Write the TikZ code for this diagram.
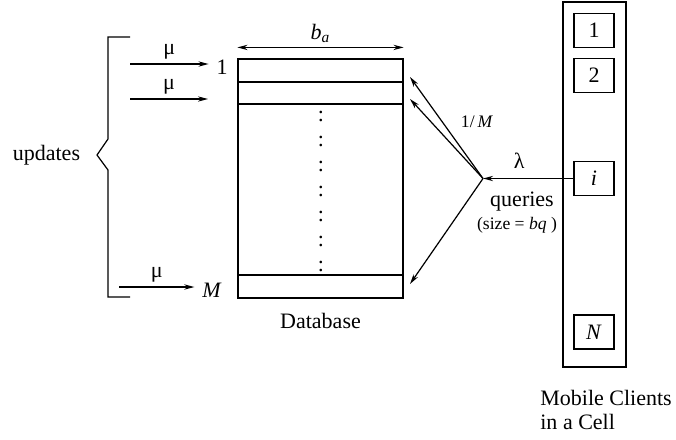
\documentclass[tikz,border=0pt]{standalone}
\usepackage{fontspec}
\setmainfont{Liberation Serif}
\usetikzlibrary{arrows.meta,positioning,calc}

\begin{document}
\begin{tikzpicture}[x=0.4545pt,y=-0.4545pt,line width=0.55pt,
    flow/.style={-{Stealth[length=4.6pt,width=2.4pt]}},
    client/.style={draw,minimum width=18.2pt,minimum height=15.5pt,inner sep=0pt}]
    \useasboundingbox (0,0) rectangle (676,439);

    % Database with its rows
    \node[draw,minimum width=75pt,minimum height=108.6pt,inner sep=0pt] (db) at (320.5,178.5) {};
    \foreach \y in {82,104,275} {
        \draw (238,\y) -- (403,\y);
    }
    \foreach \k in {0,...,6} {
        \node[inner sep=0pt] (dot\k) at (321,116.5+25*\k) {:};
    }
    \node[below=3pt of db] (dbname) {Database};

    % Row width
    \coordinate (wl) at ($(db.north west)+(0,-11)$);
    \coordinate (wr) at ($(db.north east)+(0,-11)$);
    \draw[{Stealth[length=4.6pt,width=2.4pt]}-{Stealth[length=4.6pt,width=2.4pt]}] (wl) -- node[above=-1.5pt] (ba) {\textit{b}\textsubscript{\textit{a}}} (wr);

    % Updates
    \draw (130,37) -- (108,37) -- (108,139) -- (97,155) -- (108,170) -- (108,297) -- (130,297);
    \node[anchor=east] (upd) at (88,155) {updates};
    \node (one) at (222,67) {1};
    \node (last) at (212,290) {\textit{M}};
    \coordinate (u1) at (130,64);
    \coordinate (u2) at (130,99);
    \coordinate (u2e) at (208,99);
    \coordinate (u3) at (119,287);
    \draw[flow] (u1) -- node[above=-1.5pt] (mu1) {μ} (one.west |- u1);
    \draw[flow] (u2) -- node[above=-1.5pt] (mu2) {μ} (u2e);
    \draw[flow] (u3) -- node[above=-1.5pt] (mu3) {μ} (last.west |- u3);

    % Mobile clients
    \node[draw,minimum width=28.6pt,minimum height=165.9pt,inner sep=0pt] (cell) at (594.5,184.5) {};
    \node[client] (c1) at (594,30.5) {1};
    \node[client] (c2) at (594,75.5) {2};
    \node[client] (ci) at (594,178.5) {\textit{i}};
    \node[client] (cn) at (594,332) {\textit{N}};
    \node[anchor=north west,align=left] (cellname) at ($(cell.south west)+(-30,15)$) {Mobile Clients\\[-1.1pt]in a Cell};

    % Queries
    \coordinate (hub) at (483,178.5);
    \coordinate (q1) at (410,77);
    \coordinate (q2) at (410,99);
    \coordinate (q3) at (410,284);
    \draw[flow] (ci.west) -- node[above=1pt,pos=0.6] (lam) {λ} (hub);
    \draw[flow] (hub) -- (q1);
    \draw[flow] (hub) -- (q2);
    \draw[flow] (hub) -- (q3);
    \node[font=\footnotesize] (prob) at (477,122) {1/\,\textit{M}};
    \node (qry) at (522,202) {queries};
    \node[font=\footnotesize] (qsize) at (517,225) {(size = \textit{bq} )};
\end{tikzpicture}
\end{document}
